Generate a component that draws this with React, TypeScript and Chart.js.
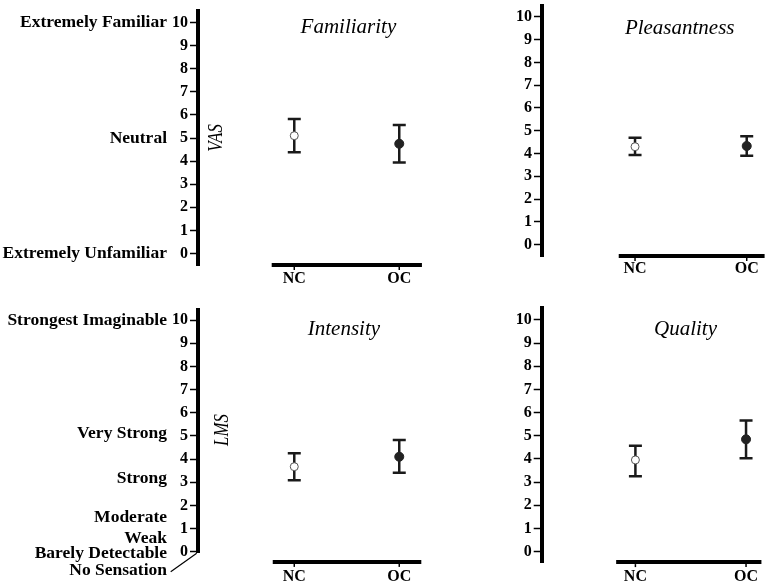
import React, { useEffect, useRef } from 'react';
import { Chart, registerables } from 'chart.js';

Chart.register(...registerables);

// ---------- data ----------
const CATEGORIES = ['NC', 'OC'];
const Y_TICKS = [0, 1, 2, 3, 4, 5, 6, 7, 8, 9, 10];

const FAMILIARITY_MEAN = [5.1, 4.75];
const FAMILIARITY_HIGH = [5.82, 5.56];
const FAMILIARITY_LOW = [4.38, 3.94];

const PLEASANTNESS_MEAN = [4.3, 4.33];
const PLEASANTNESS_HIGH = [4.69, 4.76];
const PLEASANTNESS_LOW = [3.94, 3.9];

const INTENSITY_MEAN = [3.67, 4.1];
const INTENSITY_HIGH = [4.25, 4.82];
const INTENSITY_LOW = [3.09, 3.41];

const QUALITY_MEAN = [3.96, 4.85];
const QUALITY_HIGH = [4.57, 5.66];
const QUALITY_LOW = [3.26, 4.03];

const VAS_ANCHOR_LABELS = ['Extremely Familiar', 'Neutral', 'Extremely Unfamiliar'];
const VAS_ANCHOR_VALUES = [10, 5, 0];

const LMS_ANCHOR_LABELS = [
  'Strongest Imaginable',
  'Very Strong',
  'Strong',
  'Moderate',
  'Weak',
  'Barely Detectable',
  'No Sensation',
];
const LMS_ANCHOR_VALUES = [10, 5.11, 3.17, 1.47, 0.58, -0.07, -0.79];

// ---------- layout / style ----------
const W = 774;
const H = 585;
const YW = 60;
const XH = 30;
const FONT = "'Liberation Serif', 'Times New Roman', Times, serif";

type Panel = {
  title: string;
  mean: number[];
  high: number[];
  low: number[];
  area: { left: number; top: number; right: number; bottom: number };
  yRange: [number, number];
  xRange: [number, number];
  xLine: [number, number];
  xLineGap: number;
  labelPad: number;
  titlePos: [number, number];
  side?: { text: string; value: number; dx: number };
  anchors?: { labels: string[]; values: number[] };
  leader?: boolean;
};

const PANELS: Panel[] = [
  {
    title: 'Familiarity',
    mean: FAMILIARITY_MEAN,
    high: FAMILIARITY_HIGH,
    low: FAMILIARITY_LOW,
    area: { left: 198, top: 11, right: 436, bottom: 265 },
    yRange: [-0.5, 10.5],
    xRange: [-0.917, 1.35],
    xLine: [-0.215, 1.216],
    xLineGap: 0,
    labelPad: 4,
    titlePos: [0.516, 9.55],
    side: { text: 'VAS', value: 5, dx: 18 },
    anchors: { labels: VAS_ANCHOR_LABELS, values: VAS_ANCHOR_VALUES },
  },
  {
    title: 'Pleasantness',
    mean: PLEASANTNESS_MEAN,
    high: PLEASANTNESS_HIGH,
    low: PLEASANTNESS_LOW,
    area: { left: 542, top: 2, right: 774, bottom: 256 },
    yRange: [-0.5, 10.5],
    xRange: [-0.833, 1.195],
    xLine: [-0.146, 1.16],
    xLineGap: 0,
    labelPad: 3.5,
    titlePos: [0.4, 9.24],
  },
  {
    title: 'Intensity',
    mean: INTENSITY_MEAN,
    high: INTENSITY_HIGH,
    low: INTENSITY_LOW,
    area: { left: 198, top: 309.6, right: 436, bottom: 552.9 },
    yRange: [-0.05, 10.45],
    xRange: [-0.917, 1.35],
    xLine: [-0.205, 1.21],
    xLineGap: 9,
    labelPad: 14,
    titlePos: [0.473, 9.35],
    side: { text: 'LMS', value: 5.25, dx: 24 },
    anchors: { labels: LMS_ANCHOR_LABELS, values: LMS_ANCHOR_VALUES },
    leader: true,
  },
  {
    title: 'Quality',
    mean: QUALITY_MEAN,
    high: QUALITY_HIGH,
    low: QUALITY_LOW,
    area: { left: 541.7, top: 308.4, right: 774, bottom: 562.1 },
    yRange: [-0.45, 10.5],
    xRange: [-0.847, 1.203],
    xLine: [-0.174, 1.139],
    xLineGap: 0,
    labelPad: 5,
    titlePos: [0.453, 9.35],
  },
];

function makeDecor(p: Panel) {
  return {
    id: 'panelDecor',
    beforeDatasetsDraw(chart: any) {
      const ctx = chart.ctx;
      const xs = chart.scales.x;
      const ys = chart.scales.y;
      ctx.save();
      ctx.strokeStyle = '#1a1a1a';
      ctx.lineWidth = 2.5;
      ctx.lineCap = 'butt';
      CATEGORIES.forEach((_, i) => {
        const x = xs.getPixelForValue(i);
        const yt = ys.getPixelForValue(p.high[i]);
        const yb = ys.getPixelForValue(p.low[i]);
        ctx.beginPath();
        ctx.moveTo(x, yt);
        ctx.lineTo(x, yb);
        ctx.moveTo(x - 6.5, yt);
        ctx.lineTo(x + 6.5, yt);
        ctx.moveTo(x - 6.5, yb);
        ctx.lineTo(x + 6.5, yb);
        ctx.stroke();
      });
      ctx.restore();
    },
    afterDraw(chart: any) {
      const ctx = chart.ctx;
      const xs = chart.scales.x;
      const ys = chart.scales.y;
      const area = chart.chartArea;
      ctx.save();
      // x axis line (offset from y axis)
      const yLine = area.bottom + p.xLineGap;
      ctx.strokeStyle = '#000';
      ctx.lineWidth = 4;
      ctx.beginPath();
      ctx.moveTo(xs.getPixelForValue(p.xLine[0]), yLine);
      ctx.lineTo(xs.getPixelForValue(p.xLine[1]), yLine);
      ctx.stroke();
      ctx.lineWidth = 1.5;
      CATEGORIES.forEach((_, i) => {
        const x = xs.getPixelForValue(i);
        ctx.beginPath();
        ctx.moveTo(x, yLine + 2);
        ctx.lineTo(x, yLine + 5);
        ctx.stroke();
      });
      // title
      ctx.fillStyle = '#000';
      ctx.font = `italic 21px ${FONT}`;
      ctx.textAlign = 'center';
      ctx.textBaseline = 'alphabetic';
      ctx.fillText(p.title, xs.getPixelForValue(p.titlePos[0]), ys.getPixelForValue(p.titlePos[1]));
      // rotated scale name
      if (p.side) {
        ctx.save();
        ctx.translate(area.left + p.side.dx, ys.getPixelForValue(p.side.value));
        ctx.rotate(-Math.PI / 2);
        ctx.scale(0.8, 1);
        ctx.font = `italic 21px ${FONT}`;
        ctx.textAlign = 'center';
        ctx.textBaseline = 'middle';
        ctx.fillText(p.side.text, 0, 0);
        ctx.restore();
      }
      // verbal anchors
      if (p.anchors) {
        const xr = area.left - 31;
        ctx.font = `bold 17.5px ${FONT}`;
        ctx.textAlign = 'right';
        ctx.textBaseline = 'middle';
        p.anchors.labels.forEach((lab, i) => {
          ctx.fillText(lab, xr, ys.getPixelForValue(p.anchors!.values[i]));
        });
        if (p.leader) {
          const last = p.anchors.values[p.anchors.values.length - 1];
          ctx.lineWidth = 1.2;
          ctx.beginPath();
          ctx.moveTo(xr + 3.7, ys.getPixelForValue(last) + 1.7);
          ctx.lineTo(area.left - 1.3, area.bottom + 0.4);
          ctx.stroke();
        }
      }
      ctx.restore();
    },
  };
}

function PanelChart({ p }: { p: Panel }) {
  const ref = useRef<HTMLCanvasElement>(null);
  useEffect(() => {
    const tickFont = { family: FONT, size: 16, weight: 'bold' as const };
    const chart = new Chart(ref.current!, {
      type: 'scatter',
      data: {
        datasets: [
          {
            data: CATEGORIES.map((_, i) => ({ x: i, y: p.mean[i] })),
            pointRadius: [4, 4.5],
            pointBackgroundColor: ['#ffffff', '#222222'],
            pointBorderColor: ['#555555', '#222222'],
            pointBorderWidth: 1,
            showLine: false,
          },
        ],
      },
      options: {
        responsive: false,
        animation: false,
        devicePixelRatio: 1,
        events: [],
        layout: {
          padding: {
            left: p.area.left - YW,
            top: p.area.top,
            right: W - p.area.right,
            bottom: H - p.area.bottom - XH,
          },
        },
        plugins: {
          legend: { display: false },
          tooltip: { enabled: false },
          title: { display: false },
        },
        scales: {
          x: {
            type: 'linear',
            min: p.xRange[0],
            max: p.xRange[1],
            afterBuildTicks: (s: any) => {
              s.ticks = CATEGORIES.map((_, i) => ({ value: i }));
            },
            afterFit: (s: any) => {
              s.height = XH;
              s.paddingLeft = 0;
              s.paddingRight = 0;
              s.paddingTop = 0;
              s.paddingBottom = 0;
            },
            grid: { display: false, drawTicks: false },
            border: { display: false },
            ticks: {
              callback: (v: any) => CATEGORIES[v as number] ?? '',
              font: tickFont,
              color: '#000',
              padding: p.labelPad,
              maxRotation: 0,
              autoSkip: false,
            },
          },
          y: {
            type: 'linear',
            min: p.yRange[0],
            max: p.yRange[1],
            afterBuildTicks: (s: any) => {
              s.ticks = Y_TICKS.map((v) => ({ value: v }));
            },
            afterFit: (s: any) => {
              s.width = YW;
              s.paddingLeft = 0;
              s.paddingRight = 0;
              s.paddingTop = 0;
              s.paddingBottom = 0;
            },
            grid: {
              display: true,
              drawOnChartArea: false,
              drawTicks: true,
              tickLength: 8,
              tickWidth: 1.5,
              tickColor: '#000',
            },
            border: { display: true, width: 4, color: '#000' },
            ticks: {
              font: tickFont,
              color: '#000',
              padding: 2,
              autoSkip: false,
            },
          },
        },
      },
      plugins: [makeDecor(p)],
    } as any);
    return () => chart.destroy();
  }, []);
  return (
    <canvas
      ref={ref}
      width={W}
      height={H}
      style={{ position: 'absolute', left: 0, top: 0, width: W, height: H }}
    />
  );
}

export default function App() {
  return (
    <div style={{ position: 'fixed', left: 0, top: 0, width: W, height: H, background: '#fff' }}>
      {PANELS.map((p) => (
        <PanelChart key={p.title} p={p} />
      ))}
    </div>
  );
}
